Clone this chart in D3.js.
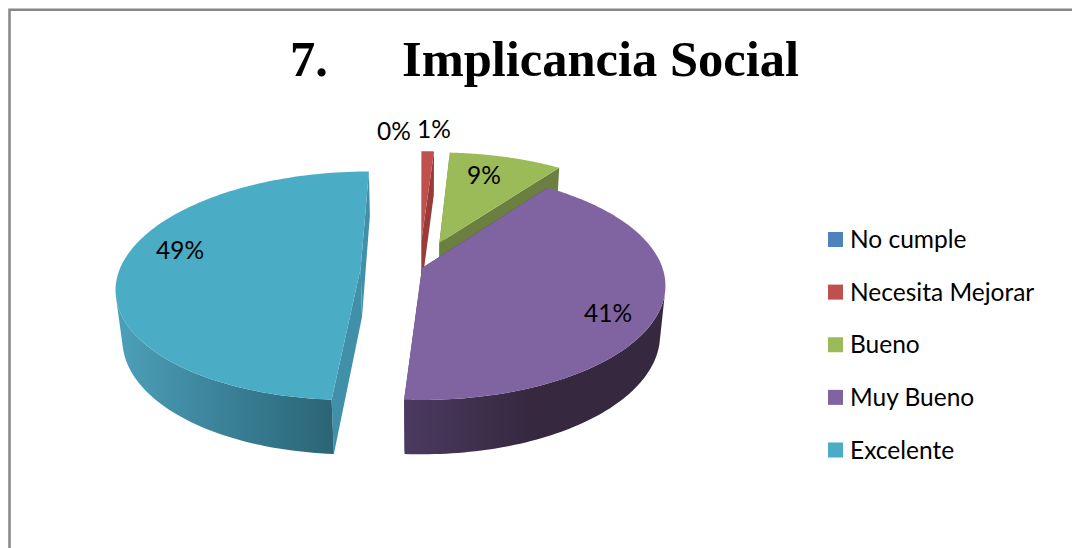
<!DOCTYPE html>
<html>
<head>
<meta charset="utf-8">
<script src="https://cdn.jsdelivr.net/npm/d3@7"></script>
<style>
  html, body { margin: 0; padding: 0; background: #fff; }
  svg { display: block; }
  .lbl { font-family: Lato, "Open Sans", sans-serif; fill: #000; }
</style>
</head>
<body>
<div id="chart"></div>
<script>
const categories = ['No cumple', 'Necesita Mejorar', 'Bueno', 'Muy Bueno', 'Excelente']
const percentValues = [0, 1, 9, 41, 49]
const percentLabels = ['0%', '1%', '9%', '41%', '49%']

const colors = ['#4f81bd', '#c0504d', '#9bbb59', '#8064a2', '#4bacc6']
const cutColors = ['#3a6090', '#983c3a', '#6b8040', '#4a3a5e', '#3f90a8']
// wall gradient, left to right
const wallStops = {
  1: ['#983c3a', '#983c3a'],
  2: ['#6b8040', '#6b8040'],
  3: ['#4b3a5f', '#35283f', '#35283f'],
  4: ['#4a9fb8', '#3a8096', '#2a6475']
}
const wallRange = {1: [420, 440], 2: [440, 560], 3: [405, 660], 4: [122, 335]}
// how far each slice is pulled out, in pie radii (right, toward viewer)
const explode = [[0, 0], [-0.003, -0.25], [0.075, -0.235], [0, 0], [-0.255, 0]]
const labelPos = [[394, 131], [434, 129], [484, 175], [608, 313], [180, 250]]

const width = 1072
const height = 548

const svg = d3.select('#chart').append('svg')
  .attr('width', width)
  .attr('height', height)

// outer frame, runs off the right and bottom of the picture
svg.append('path')
  .attr('d', 'M9.5,548V9.75H1072')
  .attr('fill', 'none')
  .attr('stroke', '#868686')
  .attr('stroke-width', 2.5)

svg.append('text')
  .attr('y', 76)
  .attr('font-family', '"Liberation Serif", serif')
  .attr('font-weight', 'bold')
  .attr('font-size', 50.5)
  .call(t => {
    t.append('tspan').attr('x', 290).text('7.')
    t.append('tspan').attr('x', 402).text('Implicancia Social')
  })

// perspective projection of the pie plane. u right, v toward viewer, z 0 top / 1 bottom
const cx = 422
const cy = 268
const rx = 240.5
const ry = 111.5
const k = 0.155
const m = 0.022
const depth = 50

function project (u, v, z) {
  const w = 1 - k * v + m * z
  return [cx + rx * u / w, cy + (ry * v + depth * z) / w]
}

const pie = d3.pie().sort(null)
const arcs = pie(percentValues)

const line = d3.line()

function rimPoint (i, a, z) {
  return project(explode[i][0] + Math.sin(a), explode[i][1] - Math.cos(a), z)
}

function apexPoint (i, z) {
  return project(explode[i][0], explode[i][1], z)
}

function rimAngles (d) {
  const steps = d3.scaleLinear().domain([0, 120]).range([d.startAngle, d.endAngle])
  return d3.range(0, 121).map(j => steps(j))
}

const defs = svg.append('defs')
Object.keys(wallStops).forEach(i => {
  const g = defs.append('linearGradient')
    .attr('id', 'wall' + i)
    .attr('gradientUnits', 'userSpaceOnUse')
    .attr('x1', wallRange[i][0])
    .attr('x2', wallRange[i][1])
    .attr('y1', 0)
    .attr('y2', 0)
  wallStops[i].forEach((c, j) => {
    g.append('stop').attr('offset', j / (wallStops[i].length - 1)).attr('stop-color', c)
  })
})

function drawSlice (i) {
  const d = arcs[i]
  if (d.endAngle === d.startAngle) return
  const angles = rimAngles(d)
  const top = angles.map(a => rimPoint(i, a, 0))
  const bottom = angles.map(a => rimPoint(i, a, 1))
  const apexTop = apexPoint(i, 0)
  const apexBottom = apexPoint(i, 1)
  const g = svg.append('g').attr('class', 'slice')

  // the two cut faces
  g.append('path')
    .attr('d', line([apexTop, top[0], bottom[0], apexBottom]) + 'Z')
    .attr('fill', cutColors[i])
  g.append('path')
    .attr('d', line([apexTop, top[120], bottom[120], apexBottom]) + 'Z')
    .attr('fill', cutColors[i])

  // outer wall, only the pieces that face the viewer, all in one path so no seams show
  const quads = d3.pairs(d3.range(0, 121))
    .map(p => [top[p[0]], top[p[1]], bottom[p[1]], bottom[p[0]]])
    .filter(q => d3.polygonArea(q) > 0)
  if (quads.length) {
    g.append('path')
      .attr('class', 'wall')
      .attr('d', quads.map(q => line(q) + 'Z').join(''))
      .attr('fill', 'url(#wall' + i + ')')
  }

  g.append('path')
    .attr('d', line([apexTop].concat(top)) + 'Z')
    .attr('fill', colors[i])
}

// back to front
;[0, 1, 2, 3, 4].forEach(drawSlice)

svg.selectAll('text.pct')
  .data(percentLabels)
  .enter().append('text')
  .attr('class', 'pct lbl')
  .attr('x', (d, i) => labelPos[i][0])
  .attr('y', (d, i) => labelPos[i][1])
  .attr('dy', '0.35em')
  .attr('text-anchor', 'middle')
  .attr('font-size', 24.5)
  .text(d => d)

const legendY = d3.scalePoint()
  .domain(categories)
  .range([239.5, 450])

const legend = svg.selectAll('g.legend')
  .data(categories)
  .enter().append('g')
  .attr('class', 'legend')
  .attr('transform', d => 'translate(828,' + legendY(d) + ')')

legend.append('rect')
  .attr('y', -7.5)
  .attr('width', 15)
  .attr('height', 15)
  .attr('fill', (d, i) => colors[i])

legend.append('text')
  .attr('class', 'lbl')
  .attr('x', 22)
  .attr('dy', '0.35em')
  .attr('font-size', 24.5)
  .text(d => d)
</script>
</body>
</html>
